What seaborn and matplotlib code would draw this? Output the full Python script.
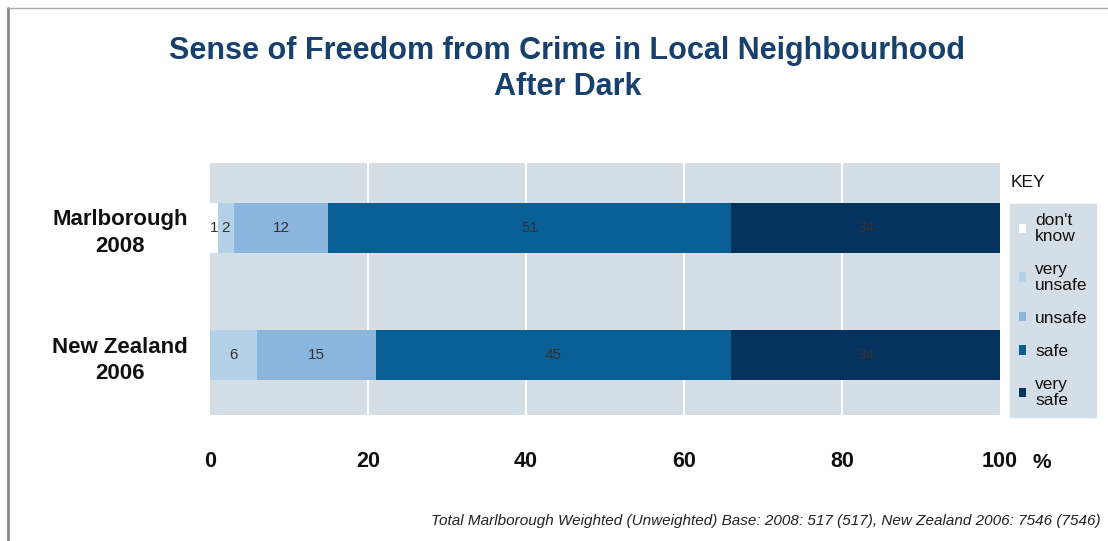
import pandas as pd
import matplotlib.pyplot as plt
import seaborn as sns
from matplotlib.patches import Patch

# Survey responses (%)
regions = ["Marlborough\n2008", "New Zealand\n2006"]
categories = ["don't know", "very unsafe", "unsafe", "safe", "very safe"]
dont_know = [1, 0]
very_unsafe = [2, 6]
unsafe = [12, 15]
safe = [51, 45]
very_safe = [34, 34]
legend_labels = ["don't\nknow", "very\nunsafe", "unsafe", "safe", "very\nsafe"]
x_ticks = [0, 20, 40, 60, 80, 100]

colors = ["#ffffff", "#b5d0e9", "#8ab5dc", "#075f96", "#03335e"]
bg = "#d4dee7"

df = pd.DataFrame({
    "region": regions,
    "don't know": dont_know,
    "very unsafe": very_unsafe,
    "unsafe": unsafe,
    "safe": safe,
    "very safe": very_safe,
})
cum = df[categories].cumsum(axis=1)

sns.set_theme(style="white")
plt.rcParams["font.family"] = ["Liberation Sans", "DejaVu Sans"]

fig = plt.figure(figsize=(11.08, 5.41), dpi=100)
ax = fig.add_axes([0.1895, 0.233, 0.713, 0.466])
ax.set_facecolor(bg)

# stacked bars: draw cumulative totals from the outermost segment inwards
for cat, col in reversed(list(zip(categories, colors))):
    plot_df = pd.DataFrame({"region": regions, "value": cum[cat]})
    sns.barplot(data=plot_df, x="value", y="region", orient="h", color=col,
                width=0.39, ax=ax, saturation=1, edgecolor="none", zorder=3)

# segment labels
for i in range(len(regions)):
    start = 0
    for cat in categories:
        v = df.loc[i, cat]
        if v > 0:
            ax.text(start + v / 2, i, str(v), ha="center", va="center",
                    fontsize=11, color="#333333", zorder=4)
        start += v

ax.set_xlim(0, 100)
ax.set_ylim(1.47, -0.51)
ax.set_xticks(x_ticks)
ax.set_xticklabels([str(t) for t in x_ticks], fontsize=15.5, fontweight="bold",
                   color="#111111")
ax.tick_params(axis="x", length=0, pad=26)
ax.tick_params(axis="y", length=0, pad=16)
for lab in ax.get_yticklabels():
    lab.set_fontsize(16)
    lab.set_fontweight("bold")
    lab.set_multialignment("center")
    lab.set_color("#111111")
    lab.set_linespacing(1.35)
ax.set_xlabel("")
ax.set_ylabel("")
for t in [20, 40, 60, 80]:
    ax.axvline(t, color="white", lw=1.5, zorder=1)
for s in ax.spines.values():
    s.set_visible(False)

fig.text(0.932, 0.146, "%", fontsize=15, fontweight="bold", va="center", ha="left",
         color="#111111")

# title
fig.text(0.512, 0.905, "Sense of Freedom from Crime in Local Neighbourhood",
         ha="center", va="center", fontsize=22, fontweight="bold", color="#17406c")
fig.text(0.512, 0.84, "After Dark", ha="center", va="center",
         fontsize=22, fontweight="bold", color="#17406c")

# key
fig.text(0.912, 0.663, "KEY", fontsize=12.5, color="#111111", va="center")
handles = [Patch(facecolor=c, edgecolor="none") for c in colors]
leg = fig.legend(handles, legend_labels, loc="upper left",
                 bbox_to_anchor=(0.9115, 0.622), frameon=True, fancybox=False,
                 facecolor=bg, edgecolor=bg, framealpha=1, fontsize=12.5,
                 handlelength=0.45, handleheight=0.45, handletextpad=0.5,
                 labelspacing=1.05, borderpad=0.5, borderaxespad=0)
for txt in leg.get_texts():
    txt.set_color("#111111")
    txt.set_linespacing(1.05)

# footnote
fig.text(0.993, 0.037,
         "Total Marlborough Weighted (Unweighted) Base: 2008: 517 (517), New Zealand 2006: 7546 (7546)",
         ha="right", va="center", fontsize=11, style="italic", color="#222222")

# frame lines of the slide
fig.add_artist(plt.Line2D([0.0075, 0.0075], [0, 0.985], color="#888888", lw=2,
                          transform=fig.transFigure))
fig.add_artist(plt.Line2D([0.0075, 1], [0.985, 0.985], color="#aaaaaa", lw=1,
                          transform=fig.transFigure))

fig.savefig("out.png", dpi=100)
